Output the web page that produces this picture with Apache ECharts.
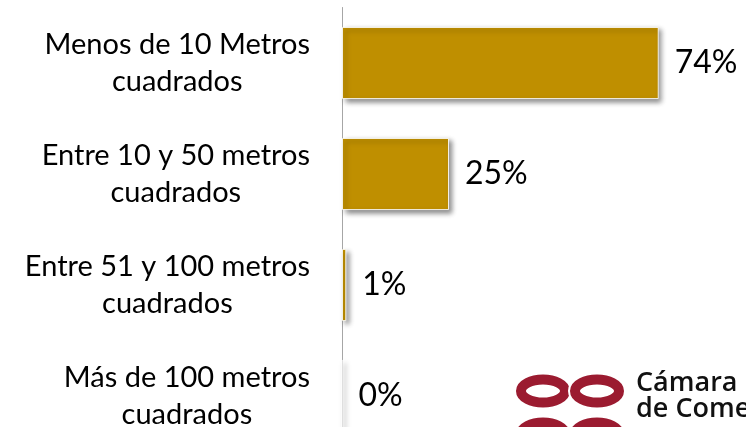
<!DOCTYPE html>
<html><head><meta charset="utf-8">
<script src="https://cdn.jsdelivr.net/npm/echarts@6/dist/echarts.min.js"></script>
<style>html,body{margin:0;padding:0;background:#fff}#c{width:746px;height:427px}</style>
</head><body><div id="c"></div>
<script>
const categories = [
  'Menos de 10 Metros\ncuadrados',
  'Entre 10 y 50 metros\ncuadrados',
  'Entre 51 y 100 metros\ncuadrados',
  'Más de 100 metros\ncuadrados'
];
const values = [74, 25, 1, 0];
const logoLines = ['Cámara', 'de Comercio'];

const FONT = 'Lato';
const chart = echarts.init(document.getElementById('c'));
const red = '#9B1B30';
chart.setOption({
  animation: false,
  backgroundColor: '#fff',
  grid: { left: 342, top: 7.5, width: 428, height: 444, containLabel: false, outerBoundsMode: 'none' },
  xAxis: { type: 'value', min: 0, max: 100, show: false, splitLine: { show: false } },
  yAxis: {
    type: 'category', inverse: true, data: categories,
    axisLine: { show: true, lineStyle: { color: '#a6a6a6', width: 1 } },
    axisTick: { show: false },
    splitLine: { show: false },
    axisLabel: {
      margin: 32, fontSize: 29, fontFamily: FONT, color: '#000', lineHeight: 37,
      formatter: v => v.split('\n').map(l => '{c|' + l + '}').join('\n'),
      rich: { c: { align: 'center', fontSize: 29, lineHeight: 37, fontFamily: FONT, color: '#000' } }
    }
  },
  series: [{
    type: 'bar', data: values, barCategoryGap: '35%',
    itemStyle: {
      color: '#BF8F00', borderColor: 'rgba(255,255,255,0.85)', borderWidth: 1,
      shadowBlur: 5, shadowColor: 'rgba(0,0,0,0.45)', shadowOffsetX: 3, shadowOffsetY: 3
    },
    label: { show: true, position: 'right', distance: 16, formatter: '{c}%', fontSize: 32, fontFamily: FONT, color: '#000' }
  }],
  graphic: [
    { type: 'ellipse', shape: { cx: 543, cy: 391, rx: 22, ry: 11.5 }, style: { fill: 'none', stroke: red, lineWidth: 10 } },
    { type: 'ellipse', shape: { cx: 597, cy: 391, rx: 22, ry: 11.5 }, style: { fill: 'none', stroke: '#fff', lineWidth: 14 } },
    { type: 'ellipse', shape: { cx: 597, cy: 391, rx: 22, ry: 11.5 }, style: { fill: 'none', stroke: red, lineWidth: 10 } },
    { type: 'ellipse', shape: { cx: 543, cy: 434, rx: 22, ry: 11.5 }, style: { fill: 'none', stroke: red, lineWidth: 10 } },
    { type: 'ellipse', shape: { cx: 597, cy: 434, rx: 22, ry: 11.5 }, style: { fill: 'none', stroke: red, lineWidth: 10 } },
    { type: 'text', left: 636, top: 370, style: { text: logoLines[0], font: '600 27px "Open Sans"', fill: '#111' } },
    { type: 'text', left: 636, top: 396, style: { text: logoLines[1], font: '600 27px "Open Sans"', fill: '#111' } }
  ]
});
</script></body></html>
